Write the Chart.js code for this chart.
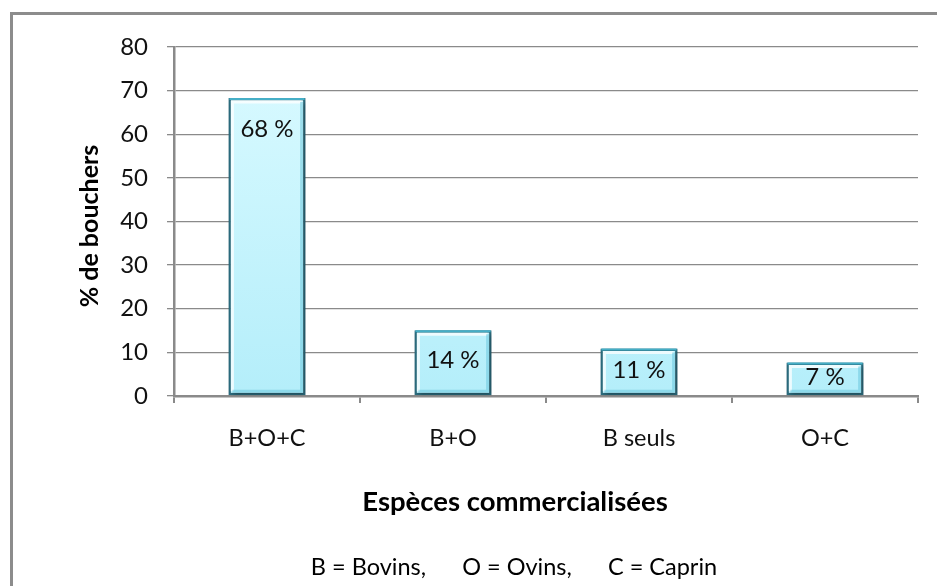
<!DOCTYPE html>
<html>
<head>
<meta charset="utf-8">
<script src="https://cdn.jsdelivr.net/npm/chart.js@4.4.1/dist/chart.umd.min.js"></script>
<style>
html,body{margin:0;padding:0;background:#fff;}
#wrap{position:relative;width:937px;height:586px;overflow:hidden;}
</style>
</head>
<body>
<div id="wrap"><canvas id="c" width="937" height="586"></canvas></div>
<script>
const categories = ["B+O+C", "B+O", "B seuls", "O+C"];
const percentValues = [68.3, 15.1, 10.9, 7.7];
const valueLabels = ["68 %", "14 %", "11 %", "7 %"];
const yTicks = [0, 10, 20, 30, 40, 50, 60, 70, 80];
const yTitle = "% de bouchers";
const xTitle = "Espèces commercialisées";
const footnote = "B = Bovins,      O = Ovins,      C = Caprin";

const FONT = "Lato, 'Open Sans', sans-serif";
const GRID = "#8a8a8a";

const decor = {
  id: "decor",
  beforeDraw(chart) {
    const ctx = chart.ctx;
    ctx.save();
    ctx.fillStyle = "#fff";
    ctx.fillRect(0, 0, chart.width, chart.height);
    ctx.strokeStyle = "#8c8c8c";
    ctx.lineWidth = 3;
    ctx.beginPath();
    ctx.moveTo(11.5, chart.height + 5);
    ctx.lineTo(11.5, 13.5);
    ctx.lineTo(chart.width + 5, 13.5);
    ctx.stroke();
    ctx.restore();
  },
  beforeDatasetDraw(chart) {
    const ctx = chart.ctx;
    ctx.save();
    ctx.shadowColor = "rgba(0,0,0,0.35)";
    ctx.shadowBlur = 5;
    ctx.shadowOffsetX = 2;
    ctx.shadowOffsetY = 2;
  },
  afterDatasetDraw(chart) {
    const ctx = chart.ctx;
    ctx.restore();
    const meta = chart.getDatasetMeta(0);
    ctx.save();
    meta.data.forEach((bar, i) => {
      const l = bar.x - bar.width / 2, r = bar.x + bar.width / 2;
      const t = bar.y, b = bar.base;
      ctx.lineWidth = 3;
      ctx.strokeStyle = "rgba(255,255,255,0.75)";
      ctx.beginPath();
      ctx.moveTo(l + 4, b - 4);
      ctx.lineTo(l + 4, t + 4);
      ctx.lineTo(r - 4, t + 4);
      ctx.stroke();
      ctx.strokeStyle = "rgba(90,190,215,0.45)";
      ctx.beginPath();
      ctx.moveTo(r - 4, t + 4);
      ctx.lineTo(r - 4, b - 4);
      ctx.lineTo(l + 4, b - 4);
      ctx.stroke();
      ctx.lineWidth = 2;
      ctx.strokeStyle = "#45aec6";
      ctx.beginPath();
      ctx.moveTo(l + 1, t + 1);
      ctx.lineTo(r - 1, t + 1);
      ctx.stroke();
      const cy = Math.min(t + 31, (t + b) / 2 - 2);
      ctx.fillStyle = "#111";
      ctx.font = "24px " + FONT;
      ctx.textAlign = "center";
      ctx.textBaseline = "middle";
      ctx.fillText(valueLabels[i], bar.x, cy);
    });
    ctx.restore();
  },
  afterDraw(chart) {
    const ctx = chart.ctx;
    ctx.save();
    ctx.fillStyle = "#000";
    ctx.textAlign = "center";
    ctx.textBaseline = "middle";
    ctx.font = "bold 27.5px " + FONT;
    ctx.fillText(xTitle, 515, 502);
    ctx.font = "23.5px " + FONT;
    ctx.fillText(footnote, 514, 567);
    ctx.translate(90, 226);
    ctx.rotate(-Math.PI / 2);
    ctx.font = "bold 25px " + FONT;
    ctx.fillText(yTitle, 0, 0);
    ctx.restore();
  }
};

const ctx = document.getElementById("c").getContext("2d");
const grad = ctx.createLinearGradient(0, 90, 0, 396);
grad.addColorStop(0, "#d6f9ff");
grad.addColorStop(1, "#b4eefa");

new Chart(ctx, {
  type: "bar",
  data: {
    labels: categories,
    datasets: [{
      data: percentValues,
      backgroundColor: grad,
      borderColor: "#2b6c7e",
      borderWidth: 2.5,
      borderSkipped: false,
      barPercentage: 0.415,
      categoryPercentage: 1
    }]
  },
  options: {
    responsive: false,
    animation: false,
    events: [],
    layout: { padding: { left: 0, top: 47, right: 19, bottom: 0 } },
    plugins: { legend: { display: false }, tooltip: { enabled: false } },
    scales: {
      y: {
        min: 0, max: 80,
        afterFit(s) { s.width = 174; },
        afterBuildTicks(s) { s.ticks = yTicks.map(v => ({ value: v })); },
        ticks: { color: "#111", font: { family: FONT, size: 24 }, padding: 19 },
        grid: { color: GRID, lineWidth: 1.3, tickLength: 7, drawTicks: true },
        border: { display: true, color: GRID, width: 2.5 }
      },
      x: {
        afterFit(s) { s.height = 586 - 396; },
        ticks: { color: "#111", font: { family: FONT, size: 23.5 }, padding: 21 },
        grid: { offset: true, drawOnChartArea: false, drawTicks: true, tickLength: 7, color: GRID, lineWidth: 2 },
        border: { display: true, color: GRID, width: 2.5 }
      }
    }
  },
  plugins: [decor]
});
</script>
</body>
</html>
